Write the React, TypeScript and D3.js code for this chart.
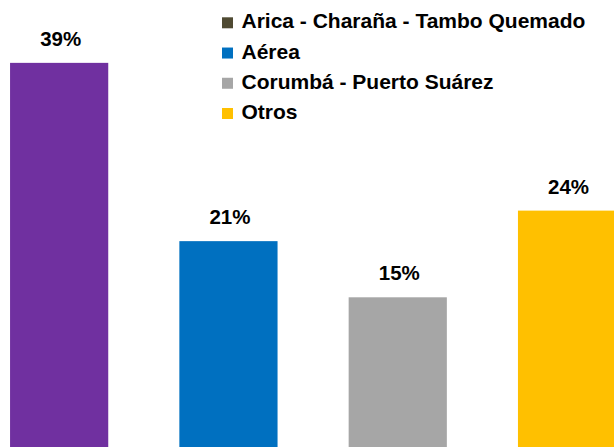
import React from "react";
import * as d3 from "d3";

const categories = ["Arica - Charaña - Tambo Quemado", "Aérea", "Corumbá - Puerto Suárez", "Otros"];
const values = [39.1, 21.0, 15.3, 24.1];
const barColors = ["#7030a0", "#0070c0", "#a6a6a6", "#ffc000"];
const legendColors = ["#4f4a32", "#0070c0", "#a6a6a6", "#ffc000"];

const W = 614;
const H = 447;
const FONT = "'Liberation Sans', Arial, sans-serif";

export default function App() {
  const x = d3
    .scaleBand<string>()
    .domain(categories)
    .range([-25.5, 651.7])
    .paddingInner(0.42)
    .paddingOuter(0.21);
  const y = d3.scaleLinear().domain([0, 40]).range([448, 54]);
  const legendY = d3.scalePoint<string>().domain(categories).range([28.3, 119]);

  return (
    <svg
      width={W}
      height={H}
      style={{ position: "fixed", left: 0, top: 0, background: "#fff" }}
      fontFamily={FONT}
    >
      <rect x={0} y={0} width={W} height={H} fill="#fff" />
      {categories.map((c, i) => (
        <g key={c}>
          <rect
            x={x(c)}
            y={y(values[i])}
            width={x.bandwidth()}
            height={y(0) - y(values[i])}
            fill={barColors[i]}
          />
          <text
            x={(x(c) as number) + x.bandwidth() / 2 + 1.5}
            y={y(values[i]) - 16.8}
            textAnchor="middle"
            fontSize={20.5}
            fontWeight="bold"
            fill="#000"
          >
            {Math.round(values[i]) + "%"}
          </text>
        </g>
      ))}
      {categories.map((c, i) => (
        <g key={"lg" + c} transform={`translate(222,${legendY(c)})`}>
          <rect x={0} y={-11} width={11} height={11} fill={legendColors[i]} />
          <text x={19.5} y={0} fontSize={21} fontWeight="bold" fill="#000">
            {c}
          </text>
        </g>
      ))}
    </svg>
  );
}
